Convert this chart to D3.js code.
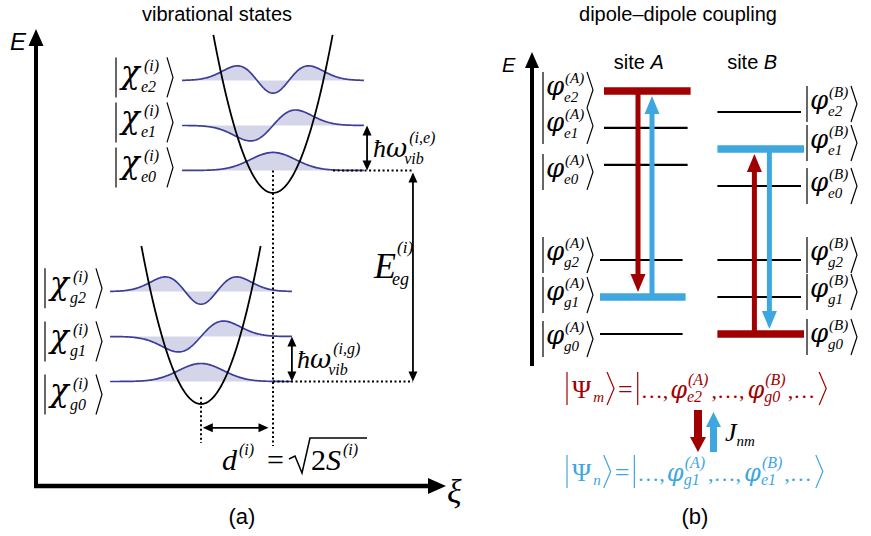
<!DOCTYPE html>
<html><head><meta charset="utf-8">
<script src="https://cdn.jsdelivr.net/npm/d3@7"></script>
<style>body{margin:0;background:#fff} svg{display:block}</style>
</head><body>
<svg id="c" width="871" height="536"></svg>
<script>
// ---------------- data ----------------
// panel (a): displaced harmonic oscillators (energies in units of ħω, coordinate dimensionless)
const vibQuantum = [0, 1, 2];
const groundLevelE = [0.5, 1.5, 2.5];
const excitedMinE = 4.69;
const excitedLevelE = [5.19, 6.19, 7.19];
const displacement = 3.2;
const wellHalfWidth = 2.65;
const waveHalfWidth = 4.04;
const waveAmp = 0.533;
const groundLabels = ["g0", "g1", "g2"];
const excitedLabels = ["e0", "e1", "e2"];
// panel (b): site energy levels (units of vibrational quantum)
const levelNames = ["g0", "g1", "g2", "e0", "e1", "e2"];
const siteALevels = [0, 1, 2, 4.57, 5.57, 6.57];
const siteBLevels = [0, 1, 2, 4.0, 5.0, 6.0];
const siteNames = ["A", "B"];
const highlightA = { e2: "red", g1: "blue" };
const highlightB = { e1: "blue", g0: "red" };
const transitions = [
  { site: "A", from: "e2", to: "g1", color: "red" },
  { site: "A", from: "g1", to: "e2", color: "blue" },
  { site: "B", from: "g0", to: "e1", color: "red" },
  { site: "B", from: "e1", to: "g0", color: "blue" }
];

// ---------------- setup ----------------
const svg = d3.select("#c");
const SERIF = "'Liberation Serif','Times New Roman',serif";
const GREEK = "'DejaVu Serif','Liberation Serif',serif";
const SANS = "'Liberation Sans',Arial,sans-serif";
const COL = { red: "#a00000", blue: "#3ea7df" };
const WAVE = "#3d3d9a", WAVEFILL = "#d5d5ea";

function txt(g, x, y, s, fs, it, color, font, anchor) {
  return g.append("text").attr("x", x).attr("y", y)
    .attr("font-family", font || SERIF).attr("font-size", fs)
    .attr("font-style", it ? "italic" : "normal")
    .attr("fill", color || "#000").attr("text-anchor", anchor || "start").text(s);
}
function head(g, x, y, ang, len, w, color) {
  const bx = x - len * Math.cos(ang), by = y - len * Math.sin(ang);
  const px = -Math.sin(ang) * w / 2, py = Math.cos(ang) * w / 2;
  g.append("path").attr("d", `M${x},${y}L${bx + px},${by + py}L${bx - px},${by - py}Z`).attr("fill", color);
}
function arrow(g, x1, y1, x2, y2, o) {
  const a = Math.atan2(y2 - y1, x2 - x1), c = o.color || "#000";
  const k = o.len * 0.85;
  const sx = o.double ? x1 + k * Math.cos(a) : x1, sy = o.double ? y1 + k * Math.sin(a) : y1;
  g.append("line").attr("x1", sx).attr("y1", sy)
    .attr("x2", x2 - k * Math.cos(a)).attr("y2", y2 - k * Math.sin(a))
    .attr("stroke", c).attr("stroke-width", o.sw);
  head(g, x2, y2, a, o.len, o.w, c);
  if (o.double) head(g, x1, y1, a + Math.PI, o.len, o.w, c);
}
function dotted(g, x1, y1, x2, y2) {
  g.append("line").attr("x1", x1).attr("y1", y1).attr("x2", x2).attr("y2", y2)
    .attr("stroke", "#000").attr("stroke-width", 2).attr("stroke-dasharray", "2,2.5");
}
// lay out a row of math pieces left to right
function mathRow(g, x, y, items, color) {
  let cx = x;
  for (const it of items) {
    if (it.bar) {
      const bx = cx + (it.padL || 1);
      g.append("line").attr("x1", bx).attr("x2", bx).attr("y1", y + it.bar[0]).attr("y2", y + it.bar[1])
        .attr("stroke", color).attr("stroke-width", 1.2);
      cx = bx + (it.padR || 4);
    } else if (it.rangle) {
      const d = it.depth || 6; cx += (it.padL || 1);
      g.append("path").attr("d", `M${cx},${y + it.rangle[0]}L${cx + d},${y + (it.rangle[0] + it.rangle[1]) / 2}L${cx},${y + it.rangle[1]}`)
        .attr("fill", "none").attr("stroke", color).attr("stroke-width", 1.2);
      cx += d + (it.padR || 2);
    } else if (it.ss) {
      let w = 0;
      if (it.sup) { const t = txt(g, cx + (it.supDx || 0), y + it.supDy, it.sup, it.fs, true, color); w = Math.max(w, (it.supDx || 0) + t.node().getComputedTextLength()); }
      if (it.sub) { const t = txt(g, cx + (it.subDx || 0), y + it.subDy, it.sub, it.fs, it.subIt !== false, color); w = Math.max(w, (it.subDx || 0) + t.node().getComputedTextLength()); }
      cx += w + (it.after || 0);
    } else {
      const t = txt(g, cx + (it.dx || 0), y + (it.dy || 0), it.t, it.fs, it.it, color, it.font);
      cx += (it.dx || 0) + t.node().getComputedTextLength() + (it.after || 0);
    }
  }
  return cx;
}
// ket with fixed layout relative to its left bar
function ket(g, x, yc, sym, sub, sup, o) {
  const c = o.color || "#000";
  g.append("line").attr("x1", x).attr("x2", x).attr("y1", yc - o.h / 2).attr("y2", yc + o.h / 2)
    .attr("stroke", c).attr("stroke-width", 1.2);
  txt(g, x + o.gap, yc + o.base, sym, o.fs, true, c, GREEK);
  txt(g, x + o.supX, yc + o.supDy, sup, o.sfs, true, c);
  txt(g, x + o.subX, yc + o.subDy, sub, o.sfs, true, c);
  const bx = x + o.w;
  g.append("path").attr("d", `M${bx - 6},${yc - o.h / 2}L${bx},${yc}L${bx - 6},${yc + o.h / 2}`)
    .attr("fill", "none").attr("stroke", c).attr("stroke-width", 1.2);
}

// ---------------- panel (a) ----------------
const ga = svg.append("g");
const xA = d3.scaleLinear().domain([0, 1]).range([201, 223.5]);
const yA = d3.scaleLinear().domain([0, 1]).range([404, 359]);

txt(ga, 217, 21, "vibrational states", 20, false, "#000", SANS, "middle");
// axes
ga.append("line").attr("x1", 36).attr("x2", 36).attr("y1", 488).attr("y2", 44).attr("stroke", "#000").attr("stroke-width", 4);
head(ga, 36, 29, -Math.PI / 2, 17, 15, "#000");
ga.append("line").attr("x1", 34).attr("x2", 430).attr("y1", 486).attr("y2", 486).attr("stroke", "#000").attr("stroke-width", 4.5);
head(ga, 446, 486, 0, 18, 16, "#000");
txt(ga, 10, 50, "E", 24, true, "#000", SANS);
txt(ga, 447, 503, "ξ", 34, true, "#000");
txt(ga, 242, 524, "(a)", 22, false, "#000", SANS, "middle");

function hermite(n, u) {
  const H = [1, 2 * u, 4 * u * u - 2][n];
  const norm = 1 / Math.sqrt(Math.pow(2, n) * [1, 1, 2][n] * Math.sqrt(Math.PI));
  return norm * H * Math.exp(-u * u / 2);
}
function drawState(center, minE, levels) {
  levels.forEach((E, i) => {
    const n = vibQuantum[i];
    const us = d3.range(-waveHalfWidth, waveHalfWidth + 1e-9, 0.04);
    const area = d3.area().x(u => xA(center + u)).y0(yA(E)).y1(u => yA(E + waveAmp * hermite(n, u)));
    const line = d3.line().x(u => xA(center + u)).y(u => yA(E + waveAmp * hermite(n, u)));
    ga.append("path").attr("d", area(us)).attr("fill", WAVEFILL);
    ga.append("path").attr("d", line(us)).attr("fill", "none").attr("stroke", WAVE).attr("stroke-width", 1.7);
  });
  const pu = d3.range(-wellHalfWidth, wellHalfWidth + 1e-9, 0.05);
  ga.append("path").attr("d", d3.line().x(u => xA(center + u)).y(u => yA(minE + u * u / 2))(pu))
    .attr("fill", "none").attr("stroke", "#000").attr("stroke-width", 1.8);
}
drawState(0, 0, groundLevelE);
drawState(displacement, excitedMinE, excitedLevelE);

// kets for vibrational states
const chiOpt = { h: 40, w: 57, gap: 5, fs: 31, base: 6, sfs: 16, supX: 28, supDy: -6, subX: 25, subDy: 15 };
excitedLevelE.forEach((E, i) => ket(ga, 116, yA(E) - 3, "χ", excitedLabels[i], "(i)", chiOpt));
groundLevelE.forEach((E, i) => ket(ga, 45, yA(E) + 13 + 0.18 * (yA(E) - yA(groundLevelE[0])), "χ", groundLabels[i], "(i)", chiOpt));

// dotted guides
dotted(ga, xA(displacement), yA(excitedLevelE[0]), xA(displacement), 446);
dotted(ga, xA(0), yA(0.15), xA(0), 443);
dotted(ga, xA(5.87), yA(excitedLevelE[0]), xA(9.42), yA(excitedLevelE[0]));
dotted(ga, xA(displacement), yA(groundLevelE[0]), xA(9.42), yA(groundLevelE[0]));
// arrows
const thin = { sw: 1.8, len: 10, w: 9, double: true };
arrow(ga, xA(9.42), yA(groundLevelE[0]), xA(9.42), yA(excitedLevelE[0]) + 2, thin);
arrow(ga, xA(7.38), yA(excitedLevelE[0]), xA(7.38), yA(excitedLevelE[1]), thin);
arrow(ga, xA(4.04), yA(groundLevelE[0]), xA(4.04), yA(groundLevelE[1]), thin);
arrow(ga, xA(0.08), yA(-0.53), xA(displacement - 0.2), yA(-0.53), thin);

// labels panel (a)
txt(ga, 374, 278, "E", 36, true, "#000");
txt(ga, 397, 253, "(i)", 17, true, "#000");
txt(ga, 392, 285, "eg", 18, true, "#000");
mathRow(ga, 373, 157, [{ t: "ħ", fs: 26, it: true }, { t: "ω", fs: 26, it: true, font: GREEK },
  { ss: true, fs: 16, sup: "(i,e)", supDx: 2, supDy: -14, sub: "vib", subDx: -3, subDy: 7 }], "#000");
mathRow(ga, 297, 368, [{ t: "ħ", fs: 26, it: true }, { t: "ω", fs: 26, it: true, font: GREEK },
  { ss: true, fs: 16, sup: "(i,g)", supDx: 2, supDy: -14, sub: "vib", subDx: -3, subDy: 7 }], "#000");
mathRow(ga, 222, 470, [{ t: "d", fs: 30, it: true },
  { ss: true, fs: 16, sup: "(i)", supDx: 2, supDy: -15 }], "#000");
txt(ga, 267, 470, "=", 30, false, "#000");
ga.append("path").attr("d", "M289,459L295,456L302,473L310,438L367,438").attr("fill", "none").attr("stroke", "#000").attr("stroke-width", 1.5);
mathRow(ga, 311, 470, [{ t: "2", fs: 30 }, { t: "S", fs: 30, it: true },
  { ss: true, fs: 16, sup: "(i)", supDx: 2, supDy: -15 }], "#000");

// ---------------- panel (b) ----------------
const gb = svg.append("g");
const yB = d3.scaleLinear().domain([0, 1]).range([334, 297]);
const xB = d3.scaleBand().domain(siteNames).range([602, 801]).paddingInner(0.245);

txt(gb, 678, 21, "dipole–dipole coupling", 20, false, "#000", SANS, "middle");
gb.append("line").attr("x1", 532).attr("x2", 532).attr("y1", 366).attr("y2", 62).attr("stroke", "#000").attr("stroke-width", 4);
head(gb, 532, 52, -Math.PI / 2, 16, 14, "#000");
txt(gb, 502, 72, "E", 20, true, "#000", SANS);
siteNames.forEach(s => {
  const t = gb.append("text").attr("x", xB(s) + xB.bandwidth() / 2 - 6).attr("y", 69)
    .attr("font-family", SANS).attr("font-size", 20).attr("text-anchor", "middle");
  t.append("tspan").text("site ");
  t.append("tspan").attr("font-style", "italic").text(s);
});

const siteData = { A: { levels: siteALevels, hl: highlightA }, B: { levels: siteBLevels, hl: highlightB } };
const ketOffA = [5, -2, -5, 7, -2, -1];
const ketOffB = [3, -5, -5, 0, -6, -8];
const phiOpt = { h: 36, w: 50, gap: 3, fs: 26, base: 5, sfs: 15, supX: 22, supDy: -7, subX: 21, subDy: 12 };
siteNames.forEach(s => {
  const d = siteData[s];
  levelNames.forEach((nm, i) => {
    const y = yB(d.levels[i]);
    const hc = d.hl[nm];
    const isG = nm[0] === "g";
    const x0 = xB(s) + (s === "A" && isG ? -2 : 2), x1 = xB(s) + xB.bandwidth() + (s === "A" && isG ? -5 : 0);
    gb.append("line").attr("x1", x0).attr("x2", x1 + (hc ? 3 : 0)).attr("y1", y).attr("y2", y)
      .attr("stroke", hc ? COL[hc] : "#000").attr("stroke-width", hc ? 7.5 : 2.2);
    const off = (s === "A" ? ketOffA : ketOffB)[i];
    const kx = s === "A" ? 543 : 807;
    ket(gb, kx, y + off, "φ", nm, "(" + s + ")", phiOpt);
  });
});
transitions.forEach(t => {
  const d = siteData[t.site];
  const yf = yB(d.levels[levelNames.indexOf(t.from)]);
  const yt = yB(d.levels[levelNames.indexOf(t.to)]);
  const dir = yt > yf ? 1 : -1;
  const xo = t.color === "red" ? (t.site === "A" ? 36 : 39) : (t.site === "A" ? 50 : 54);
  const x = xB(t.site) + xo;
  arrow(gb, x, yf, x, yt - dir * 5, { sw: 5, len: 18, w: 15, color: COL[t.color] });
});

// composite states
function psiRow(y, sub, a, b, color) {
  mathRow(gb, 566, y, [
    { bar: [-26, 7], padL: 1, padR: 5 },
    { t: "Ψ", fs: 26 },
    { ss: true, fs: 15, sub: sub, subDx: 2, subDy: 4, after: 1 },
    { rangle: [-26, 7], depth: 7, padL: 2, padR: 4 },
    { t: "=", fs: 26, after: 4 },
    { bar: [-26, 7], padL: 1, padR: 3 },
    { t: "…,", fs: 22, after: 2 },
    { t: "φ", fs: 24, it: true, font: GREEK },
    { ss: true, fs: 16, sup: "(A)", supDx: 1, supDy: -13, sub: a, subDx: 0, subDy: 4, after: 3 },
    { t: ",…,", fs: 22, after: 3 },
    { t: "φ", fs: 24, it: true, font: GREEK },
    { ss: true, fs: 16, sup: "(B)", supDx: 1, supDy: -13, sub: b, subDx: 0, subDy: 4, after: 2 },
    { t: ",…", fs: 22, after: 1 },
    { rangle: [-26, 7], depth: 7, padL: 3 }
  ], color);
}
psiRow(398, "m", "e2", "g0", COL.red);
psiRow(481, "n", "g1", "e1", COL.blue);
arrow(gb, 698, 410, 698, 452, { sw: 8, len: 15, w: 16, color: COL.red });
arrow(gb, 713.5, 452, 713.5, 412, { sw: 7, len: 15, w: 15, color: COL.blue });
mathRow(gb, 725, 441, [{ t: "J", fs: 26, it: true }, { ss: true, fs: 15, sub: "nm", subDx: 0, subDy: 5 }], "#000");
txt(gb, 695, 524, "(b)", 22, false, "#000", SANS, "middle");
</script>
</body></html>
